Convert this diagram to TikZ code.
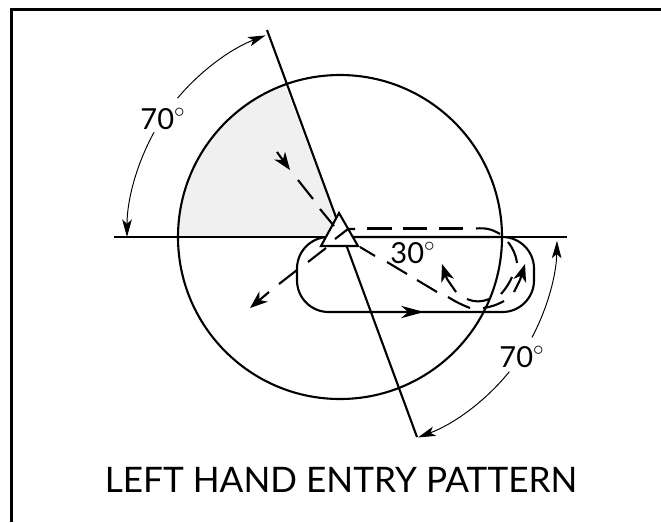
\documentclass[tikz,border=0pt]{standalone}
\usepackage{fontspec}
\setmainfont{Lato}
\usepackage{tikz}
\usetikzlibrary{arrows.meta,positioning,calc}
\definecolor{sectorgray}{HTML}{F0F0F0}
\tikzset{
    every picture/.style={line cap=butt,line join=miter},
    frameline/.style={line width=1.7pt},
    mainline/.style={line width=1.2pt},
    courseline/.style={line width=1.2pt},
    flowtip/.style={-{Stealth[length=10pt,width=7.5pt,inset=3pt]},line width=1.2pt},
    anglearrow/.style={-{Stealth[length=10pt,width=5.5pt,inset=2.5pt]},line width=0.55pt},
    anglelabel/.style={font=\fontsize{16.5}{16.5}\selectfont,inner sep=0pt},
    titlelabel/.style={font=\fontsize{20}{20}\selectfont,inner sep=0pt}
}
\begin{document}
\begin{tikzpicture}[x=0.02cm,y=-0.02cm]
  \useasboundingbox (0,0) rectangle (661,522);
  % px coordinates, y runs downwards
  \coordinate (fix) at (343,237);
  \coordinate (radialtop) at (267,30);
  \coordinate (radialbot) at (417,437);
  \coordinate (lineleft) at (114,237);
  \coordinate (lineright) at (567,237);
  \fill[sectorgray] (fix) -- (178,237) arc[start angle=180,end angle=110,x radius=162,y radius=-162] -- cycle;

  \draw[frameline] (11.5,522) -- (11.5,9.5) -- (661,9.5);
  \draw[mainline] (340,237) circle[x radius=162,y radius=162];
  \draw[mainline] (lineleft) -- (lineright);
  \draw[mainline] (radialtop) -- (radialbot);
  \draw[mainline,rounded corners=18pt] (297,237) rectangle (534,312);
  \draw[mainline,-{Stealth[length=13pt,width=7pt,inset=4pt]}] (400,312) -- (424,312);

  % beacon
  \draw[mainline,fill=white] (339,213) -- (321,246) -- (358,246) -- cycle;

  % inbound legs
  \draw[flowtip] (277,152) -- (290,170);
  \draw[courseline] (298,180) -- (313,199) (320,209) -- (334,226);
  \draw[flowtip] (269,292) -- (250,308);
  \draw[courseline] (279,284) -- (297,270) (308,262) -- (326,248) (335,239) -- (348,229) -- (355,229);

  % teardrop legs
  \draw[courseline] (367,228.5) -- (392,228.5) (403,228.5) -- (427,228.5) (439,228.5) -- (463,228.5);
  \draw[courseline] (476,228.5) to[bend left=18] (500,234);
  \draw[courseline] (508,242) to[bend left=14] (517,263);
  \draw[courseline] (512,277) to[bend left=8] (501,294);
  \draw[courseline] (489,299) to[bend left=22] (467,299);
  \draw[courseline] (456,292) -- (447,279);
  \draw[flowtip] (447,279) -- (442,264);
  \draw[courseline] (360,247) -- (375,256) (387,262) -- (407,274) (417,280) -- (437,292) (448,297) to[bend right=5] (470,308);
  \draw[courseline] (483,308) to[bend right=10] (504,301);
  \draw[courseline] (514,292) -- (520,280);
  \draw[flowtip] (520,280) -- (525,264);

  % angle arcs
  \draw[anglearrow] (fix) ++(-151:216) arc[start angle=151,end angle=180,x radius=216,y radius=-216];
  \draw[anglearrow] (fix) ++(-140:216) arc[start angle=140,end angle=111,x radius=216,y radius=-216];
  \draw[anglearrow] (fix) ++(28:214) arc[start angle=-28,end angle=-1,x radius=214,y radius=-214];
  \draw[anglearrow] (fix) ++(39:214) arc[start angle=-39,end angle=-69.5,x radius=214,y radius=-214];

  \node[anglelabel,anchor=base] (leftangle) at (163,129) {70$^\circ$};
  \node[anglelabel,anchor=base] (rightangle) at (522,367) {70$^\circ$};
  \node[anglelabel,anchor=base] (courseangle) at (413,263) {30$^\circ$};
  \node[titlelabel,anchor=base] (title) at (341,492) {LEFT HAND ENTRY PATTERN};
\end{tikzpicture}
\end{document}
